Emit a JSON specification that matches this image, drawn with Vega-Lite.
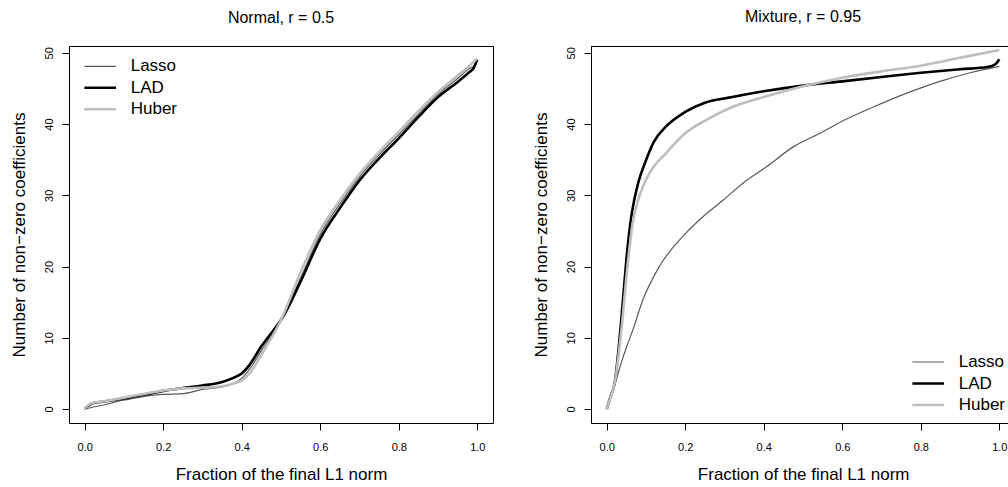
{
  "$schema": "https://vega.github.io/schema/vega-lite/v6.json",
  "padding": {"left": 10, "top": 8, "right": 0, "bottom": 0},
  "background": "white",
  "config": {
    "font": "Liberation Sans",
    "axis": {"grid": false, "labelColor": "black", "titleColor": "black", "tickColor": "black", "domainColor": "black", "titleFontWeight": "normal", "labelFont": "Liberation Sans", "titleFont": "Liberation Sans"},
    "title": {"font": "Liberation Sans", "fontWeight": "normal", "color": "black"},
    "legend": {"labelFont": "Liberation Sans"}
  },
  "datasets": {
    "normal": [
      {"f": 0, "n": 0, "method": "Lasso"}, {"f": 0.02, "n": 0.25, "method": "Lasso"}, {"f": 0.05, "n": 0.6, "method": "Lasso"}, {"f": 0.08, "n": 1.05, "method": "Lasso"}, {"f": 0.12, "n": 1.45, "method": "Lasso"}, {"f": 0.16, "n": 1.85, "method": "Lasso"}, {"f": 0.2, "n": 2.05, "method": "Lasso"}, {"f": 0.25, "n": 2.15, "method": "Lasso"}, {"f": 0.3, "n": 2.75, "method": "Lasso"}, {"f": 0.35, "n": 3.1, "method": "Lasso"}, {"f": 0.38, "n": 3.6, "method": "Lasso"}, {"f": 0.4, "n": 4.3, "method": "Lasso"}, {"f": 0.42, "n": 5.6, "method": "Lasso"}, {"f": 0.45, "n": 8.2, "method": "Lasso"}, {"f": 0.48, "n": 10.8, "method": "Lasso"}, {"f": 0.5, "n": 12.6, "method": "Lasso"}, {"f": 0.55, "n": 18.4, "method": "Lasso"}, {"f": 0.6, "n": 24.5, "method": "Lasso"}, {"f": 0.65, "n": 28.8, "method": "Lasso"}, {"f": 0.7, "n": 32.6, "method": "Lasso"}, {"f": 0.75, "n": 35.7, "method": "Lasso"}, {"f": 0.8, "n": 38.5, "method": "Lasso"}, {"f": 0.85, "n": 41.4, "method": "Lasso"}, {"f": 0.9, "n": 44.2, "method": "Lasso"}, {"f": 0.95, "n": 46.4, "method": "Lasso"}, {"f": 0.98, "n": 47.8, "method": "Lasso"}, {"f": 0.99, "n": 48.1, "method": "Lasso"}, {"f": 1.0, "n": 49.0, "method": "Lasso"},
      {"f": 0, "n": 0, "method": "LAD"}, {"f": 0.01, "n": 0.5, "method": "LAD"}, {"f": 0.02, "n": 0.8, "method": "LAD"}, {"f": 0.05, "n": 1.05, "method": "LAD"}, {"f": 0.1, "n": 1.5, "method": "LAD"}, {"f": 0.15, "n": 2.0, "method": "LAD"}, {"f": 0.2, "n": 2.55, "method": "LAD"}, {"f": 0.25, "n": 2.95, "method": "LAD"}, {"f": 0.3, "n": 3.3, "method": "LAD"}, {"f": 0.35, "n": 3.8, "method": "LAD"}, {"f": 0.38, "n": 4.4, "method": "LAD"}, {"f": 0.4, "n": 5.0, "method": "LAD"}, {"f": 0.42, "n": 6.2, "method": "LAD"}, {"f": 0.45, "n": 8.8, "method": "LAD"}, {"f": 0.48, "n": 11.0, "method": "LAD"}, {"f": 0.5, "n": 12.5, "method": "LAD"}, {"f": 0.55, "n": 17.9, "method": "LAD"}, {"f": 0.6, "n": 23.9, "method": "LAD"}, {"f": 0.65, "n": 28.2, "method": "LAD"}, {"f": 0.7, "n": 32.1, "method": "LAD"}, {"f": 0.75, "n": 35.2, "method": "LAD"}, {"f": 0.8, "n": 38.0, "method": "LAD"}, {"f": 0.85, "n": 41.0, "method": "LAD"}, {"f": 0.9, "n": 43.8, "method": "LAD"}, {"f": 0.95, "n": 45.9, "method": "LAD"}, {"f": 0.98, "n": 47.3, "method": "LAD"}, {"f": 0.99, "n": 47.8, "method": "LAD"}, {"f": 1.0, "n": 49.1, "method": "LAD"},
      {"f": 0, "n": 0, "method": "Huber"}, {"f": 0.01, "n": 0.6, "method": "Huber"}, {"f": 0.02, "n": 0.85, "method": "Huber"}, {"f": 0.05, "n": 1.1, "method": "Huber"}, {"f": 0.1, "n": 1.6, "method": "Huber"}, {"f": 0.15, "n": 2.1, "method": "Huber"}, {"f": 0.2, "n": 2.6, "method": "Huber"}, {"f": 0.25, "n": 2.9, "method": "Huber"}, {"f": 0.3, "n": 3.0, "method": "Huber"}, {"f": 0.35, "n": 3.2, "method": "Huber"}, {"f": 0.38, "n": 3.6, "method": "Huber"}, {"f": 0.4, "n": 4.0, "method": "Huber"}, {"f": 0.42, "n": 5.0, "method": "Huber"}, {"f": 0.45, "n": 7.6, "method": "Huber"}, {"f": 0.48, "n": 10.4, "method": "Huber"}, {"f": 0.5, "n": 12.5, "method": "Huber"}, {"f": 0.55, "n": 19.2, "method": "Huber"}, {"f": 0.6, "n": 25.1, "method": "Huber"}, {"f": 0.65, "n": 29.3, "method": "Huber"}, {"f": 0.7, "n": 33.0, "method": "Huber"}, {"f": 0.75, "n": 36.1, "method": "Huber"}, {"f": 0.8, "n": 38.9, "method": "Huber"}, {"f": 0.85, "n": 41.8, "method": "Huber"}, {"f": 0.9, "n": 44.5, "method": "Huber"}, {"f": 0.95, "n": 46.8, "method": "Huber"}, {"f": 0.98, "n": 48.2, "method": "Huber"}, {"f": 1.0, "n": 49.2, "method": "Huber"}
    ],
    "mixture": [
      {"f": 0, "n": 0, "method": "Lasso"}, {"f": 0.01, "n": 1.5, "method": "Lasso"}, {"f": 0.02, "n": 3.2, "method": "Lasso"}, {"f": 0.03, "n": 5.2, "method": "Lasso"}, {"f": 0.04, "n": 7.0, "method": "Lasso"}, {"f": 0.05, "n": 8.6, "method": "Lasso"}, {"f": 0.066, "n": 11.0, "method": "Lasso"}, {"f": 0.092, "n": 15.3, "method": "Lasso"}, {"f": 0.134, "n": 20.0, "method": "Lasso"}, {"f": 0.2, "n": 24.6, "method": "Lasso"}, {"f": 0.245, "n": 27.0, "method": "Lasso"}, {"f": 0.296, "n": 29.3, "method": "Lasso"}, {"f": 0.347, "n": 31.7, "method": "Lasso"}, {"f": 0.407, "n": 34.0, "method": "Lasso"}, {"f": 0.475, "n": 36.8, "method": "Lasso"}, {"f": 0.543, "n": 38.7, "method": "Lasso"}, {"f": 0.603, "n": 40.5, "method": "Lasso"}, {"f": 0.679, "n": 42.4, "method": "Lasso"}, {"f": 0.781, "n": 44.7, "method": "Lasso"}, {"f": 0.849, "n": 46.0, "method": "Lasso"}, {"f": 0.926, "n": 47.2, "method": "Lasso"}, {"f": 1.0, "n": 48.1, "method": "Lasso"},
      {"f": 0, "n": 0, "method": "LAD"}, {"f": 0.01, "n": 1.8, "method": "LAD"}, {"f": 0.02, "n": 3.6, "method": "LAD"}, {"f": 0.03, "n": 8.3, "method": "LAD"}, {"f": 0.04, "n": 14.4, "method": "LAD"}, {"f": 0.05, "n": 20.9, "method": "LAD"}, {"f": 0.06, "n": 26.0, "method": "LAD"}, {"f": 0.07, "n": 29.3, "method": "LAD"}, {"f": 0.08, "n": 31.7, "method": "LAD"}, {"f": 0.1, "n": 34.9, "method": "LAD"}, {"f": 0.12, "n": 37.5, "method": "LAD"}, {"f": 0.15, "n": 39.6, "method": "LAD"}, {"f": 0.2, "n": 41.7, "method": "LAD"}, {"f": 0.25, "n": 43.0, "method": "LAD"}, {"f": 0.32, "n": 43.8, "method": "LAD"}, {"f": 0.4, "n": 44.6, "method": "LAD"}, {"f": 0.5, "n": 45.4, "method": "LAD"}, {"f": 0.6, "n": 46.0, "method": "LAD"}, {"f": 0.7, "n": 46.6, "method": "LAD"}, {"f": 0.8, "n": 47.2, "method": "LAD"}, {"f": 0.9, "n": 47.7, "method": "LAD"}, {"f": 0.97, "n": 48.0, "method": "LAD"}, {"f": 0.99, "n": 48.4, "method": "LAD"}, {"f": 1.0, "n": 49.1, "method": "LAD"},
      {"f": 0, "n": 0, "method": "Huber"}, {"f": 0.01, "n": 1.7, "method": "Huber"}, {"f": 0.02, "n": 3.5, "method": "Huber"}, {"f": 0.03, "n": 7.5, "method": "Huber"}, {"f": 0.04, "n": 12.5, "method": "Huber"}, {"f": 0.05, "n": 18.5, "method": "Huber"}, {"f": 0.066, "n": 26.0, "method": "Huber"}, {"f": 0.08, "n": 29.3, "method": "Huber"}, {"f": 0.092, "n": 31.2, "method": "Huber"}, {"f": 0.117, "n": 33.8, "method": "Huber"}, {"f": 0.151, "n": 35.9, "method": "Huber"}, {"f": 0.2, "n": 38.7, "method": "Huber"}, {"f": 0.254, "n": 40.6, "method": "Huber"}, {"f": 0.32, "n": 42.4, "method": "Huber"}, {"f": 0.4, "n": 43.8, "method": "Huber"}, {"f": 0.5, "n": 45.3, "method": "Huber"}, {"f": 0.6, "n": 46.5, "method": "Huber"}, {"f": 0.7, "n": 47.4, "method": "Huber"}, {"f": 0.8, "n": 48.2, "method": "Huber"}, {"f": 0.9, "n": 49.3, "method": "Huber"}, {"f": 1.0, "n": 50.4, "method": "Huber"}
    ]
  },
  "hconcat": [
    {
      "width": 424,
      "height": 377,
      "view": {"stroke": "black", "strokeWidth": 1},
      "title": {"text": "Normal, r = 0.5", "fontSize": 16, "baseline": "alphabetic", "offset": 7, "frame": "group", "anchor": "middle"},
      "data": {"name": "normal"},
      "mark": {"type": "line", "interpolate": "monotone"},
      "encoding": {
        "x": {"field": "f", "type": "quantitative", "scale": {"domain": [-0.04, 1.04], "nice": false, "zero": false},
          "axis": {"values": [0, 0.2, 0.4, 0.6, 0.8, 1], "format": ".1f", "title": "Fraction of the final L1 norm", "domain": false, "tickSize": 7, "labelPadding": 20.3, "labelBaseline": "alphabetic", "labelFontSize": 11, "labelFlush": false, "labelOverlap": false, "titleFontSize": 17, "titleX": 212, "titleY": 56.6, "titleBaseline": "alphabetic", "titleAlign": "center"}},
        "y": {"field": "n", "type": "quantitative", "scale": {"domain": [-1.96, 50.96], "nice": false, "zero": false},
          "axis": {"values": [0, 10, 20, 30, 40, 50], "title": "Number of non−zero coefficients", "domain": false, "tickSize": 7, "labelAngle": -90, "labelAlign": "center", "labelBaseline": "alphabetic", "labelPadding": 9.5, "labelFontSize": 11, "labelFlush": false, "labelOverlap": false, "titleFontSize": 17, "titleAngle": -90, "titleX": -44.5, "titleY": 188.5, "titleBaseline": "alphabetic", "titleAlign": "center"}},
        "color": {"field": "method", "type": "nominal", "scale": {"domain": ["Lasso", "LAD", "Huber"], "range": ["#5a5a5a", "#000000", "#bebebe"]},
          "legend": {"orient": "none", "legendX": 22.7, "legendY": 11.8, "direction": "vertical", "title": null, "symbolType": "stroke", "symbolSize": 1000, "labelFontSize": 17, "labelColor": "black", "labelOffset": 22, "rowPadding": 3.5, "padding": 0,
            "encode": {"symbols": {"update": {"strokeWidth": {"signal": "datum.value === 'Lasso' ? 1.2 : 2.6"}}}}}},
        "strokeWidth": {"condition": {"test": "datum.method === 'Lasso'", "value": 1.2}, "value": 2.6}
      }
    },
    {
      "width": 421,
      "height": 377,
      "view": {"stroke": null},
      "title": {"text": "Mixture, r = 0.95", "fontSize": 16, "baseline": "alphabetic", "offset": 7, "frame": "group", "anchor": "middle", "dx": 1.5},
      "layer": [
        {
          "data": {"values": [{}]},
          "mark": {"type": "rule", "color": "black", "strokeWidth": 1},
          "encoding": {"y": {"datum": 50.89}}
        },
        {
          "data": {"name": "mixture"},
          "mark": {"type": "line", "interpolate": "monotone"},
          "encoding": {
            "x": {"field": "f", "type": "quantitative", "scale": {"domain": [-0.04, 1.0323], "nice": false, "zero": false},
              "axis": {"values": [0, 0.2, 0.4, 0.6, 0.8, 1], "format": ".1f", "title": "Fraction of the final L1 norm", "domain": true, "tickSize": 7, "labelPadding": 20.3, "labelBaseline": "alphabetic", "labelFontSize": 11, "labelFlush": false, "labelOverlap": false, "titleFontSize": 17, "titleX": 212.2, "titleY": 56.6, "titleBaseline": "alphabetic", "titleAlign": "center"}},
            "y": {"field": "n", "type": "quantitative", "scale": {"domain": [-1.96, 50.96], "nice": false, "zero": false},
              "axis": {"values": [0, 10, 20, 30, 40, 50], "title": "Number of non−zero coefficients", "domain": true, "tickSize": 7, "labelAngle": -90, "labelAlign": "center", "labelBaseline": "alphabetic", "labelPadding": 10, "labelFontSize": 11, "labelFlush": false, "labelOverlap": false, "titleFontSize": 17, "titleAngle": -90, "titleX": -44.5, "titleY": 188.5, "titleBaseline": "alphabetic", "titleAlign": "center"}},
            "color": {"field": "method", "type": "nominal", "scale": {"domain": ["Lasso", "LAD", "Huber"], "range": ["#5a5a5a", "#000000", "#bebebe"]},
              "legend": {"orient": "none", "legendX": 328.7, "legendY": 307.5, "direction": "vertical", "title": null, "symbolType": "stroke", "symbolSize": 1000, "labelFontSize": 17, "labelColor": "black", "labelOffset": 22, "rowPadding": 3.5, "padding": 0,
                "encode": {"symbols": {"update": {"strokeWidth": {"signal": "datum.value === 'Lasso' ? 1.2 : 2.6"}}}}}},
            "strokeWidth": {"condition": {"test": "datum.method === 'Lasso'", "value": 1.2}, "value": 2.6}
          }
        }
      ]
    }
  ],
  "spacing": 98,
  "bounds": "flush",
  "resolve": {"scale": {"x": "independent", "y": "independent", "color": "independent"}, "legend": {"color": "independent"}}
}
